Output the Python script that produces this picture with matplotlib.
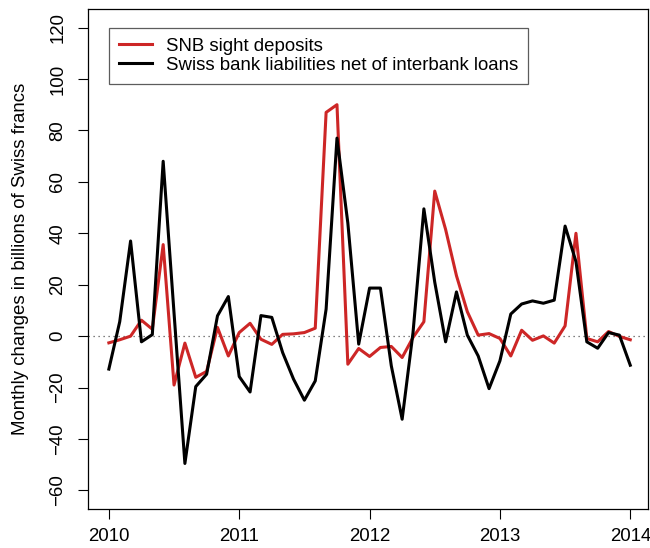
import matplotlib.pyplot as plt
import numpy as np

# Monthly changes, Jan 2010 .. Jan 2014 (billions of CHF)
START_YEAR = 2010
SNB_SIGHT = [
    -2.6, -1.4, 0.0, 6.2, 2.7, 35.6, -19.0, -2.7, -16.0, -13.7, 3.4, -7.7,
    1.4, 5.0, -1.2, -3.2, 0.7, 0.9, 1.4, 3.1, 87.0, 90.0, -10.9, -4.8,
    -7.9, -4.4, -4.0, -8.3, -0.5, 5.6, 56.4, 41.5, 23.5, 9.5, 0.4, 1.0,
    -0.9, -7.7, 2.3, -1.6, 0.1, -2.7, 4.0, 40.0, -0.9, -2.2, 1.8, -0.1,
    -1.4,
]
BANK_LIAB = [
    -12.8, 5.6, 37.0, -2.2, 0.6, 68.0, 9.0, -49.5, -19.6, -14.8, 7.9, 15.4,
    -15.7, -21.7, 8.0, 7.3, -6.4, -16.7, -24.9, -17.4, 10.5, 77.0, 44.0, -3.1,
    18.7, 18.7, -11.5, -32.3, 1.4, 49.5, 21.0, -2.2, 17.2, 0.4, -7.7, -20.4,
    -9.6, 8.6, 12.5, 13.7, 12.8, 14.0, 42.8, 29.0, -2.2, -4.7, 1.4, 0.4,
    -11.3,
]
SERIES_LABELS = ["SNB sight deposits", "Swiss bank liabilities net of interbank loans"]
X_TICKS = [2010, 2011, 2012, 2013, 2014]
Y_TICKS = [-60, -40, -20, 0, 20, 40, 60, 80, 100, 120]
Y_LABEL = "Monthly changes in billions of Swiss francs"

RED = "#CD2626"

plt.rcParams["font.family"] = ["Liberation Sans", "DejaVu Sans"]
plt.rcParams["font.size"] = 13.4

t = START_YEAR + np.arange(len(SNB_SIGHT)) / 12.0

fig = plt.figure(figsize=(6.5, 5.48), dpi=100)
ax = fig.add_axes([88 / 650, 39 / 548, 560 / 650, 500 / 548])

ax.axhline(0, color="#555555", linestyle=(0, (1, 3)), linewidth=0.9)
ax.plot(t, SNB_SIGHT, color=RED, linewidth=2.2, label=SERIES_LABELS[0])
ax.plot(t, BANK_LIAB, color="black", linewidth=2.2, label=SERIES_LABELS[1])

ax.set_xlim(2009.84, 2014.136)
ax.set_ylim(-67.2, 127.2)
ax.set_xticks(X_TICKS)
ax.set_xticklabels([str(x) for x in X_TICKS])
ax.set_yticks(Y_TICKS)
ax.set_yticklabels([str(y).replace("-", "\u2212") for y in Y_TICKS], rotation=90, va="center")
ax.tick_params(axis="x", length=7, width=0.8, pad=6.8)
ax.tick_params(axis="y", length=7, width=0.8, pad=8.6)
for spine in ax.spines.values():
    spine.set_linewidth(0.9)

fig.text(21 / 650, (548 - 259) / 548, Y_LABEL, rotation=90, ha="center", va="center")

leg = ax.legend(
    loc="upper left",
    bbox_to_anchor=(0.0375, 0.9626),
    borderaxespad=0,
    frameon=True,
    fancybox=False,
    edgecolor="#333333",
    borderpad=0.55,
    labelspacing=0.1,
    handlelength=1.75,
    handletextpad=0.75,
)
leg.get_frame().set_linewidth(0.9)
for line in leg.get_lines():
    line.set_linewidth(2.2)

plt.savefig("out.png", dpi=100)
plt.close()
